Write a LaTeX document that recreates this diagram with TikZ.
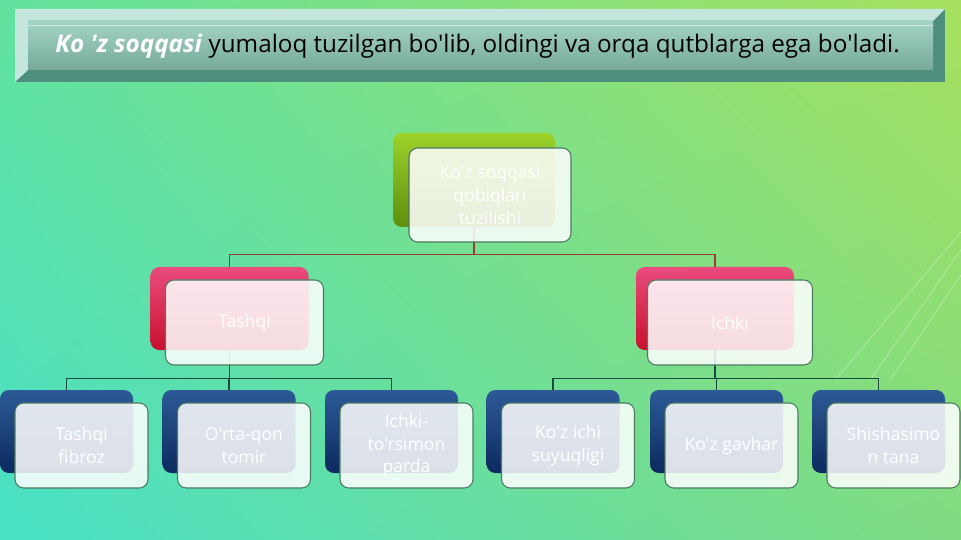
\documentclass[tikz,border=0pt]{standalone}
\usepackage{fontspec}
\setmainfont{Open Sans}[Ligatures=TeXOff]
\usepackage{tikz}
\usetikzlibrary{arrows}
\usetikzlibrary{shadings}
\definecolor{bgtl}{HTML}{62E29E}
\definecolor{bgtr}{HTML}{A6E05E}
\definecolor{bgbl}{HTML}{48E0C6}
\definecolor{bgbr}{HTML}{80DC82}
\definecolor{barface}{HTML}{8CC8B6}
\definecolor{barlight}{HTML}{C4E6DC}
\definecolor{bardark}{HTML}{4E8E7C}
\definecolor{linered}{HTML}{9C3A3A}
\definecolor{linegreen}{HTML}{1C4A40}
\definecolor{frameline}{HTML}{4A7A60}
\definecolor{greentop}{HTML}{9CD22A}
\definecolor{greenbot}{HTML}{5E8E0E}
\definecolor{redtop}{HTML}{EA4C7C}
\definecolor{redbot}{HTML}{C8102E}
\definecolor{bluetop}{HTML}{2C5A96}
\definecolor{bluebot}{HTML}{0C2A5E}
\tikzstyle{every node}+=[inner sep=0pt]
\tikzstyle{back} = [rectangle, rounded corners=5pt, minimum width=2.66cm, minimum height=1.66cm]
\tikzstyle{backgreen} = [back, top color=greentop, bottom color=greenbot, minimum width=3.24cm, minimum height=1.88cm]
\tikzstyle{backred} = [back, top color=redtop, bottom color=redbot, minimum width=3.16cm]
\tikzstyle{backblue} = [back, top color=bluetop, bottom color=bluebot]
\tikzstyle{front} = [rectangle, draw=frameline, line width=0.6pt, rounded corners=5pt, fill=white, fill opacity=0.86, text opacity=1, text=white, align=center, font=\fontsize{10}{13}\selectfont, minimum width=2.66cm, minimum height=1.70cm, xshift=0.3cm, yshift=-0.28cm]
\tikzstyle{line} = [draw, line width=0.7pt]

\begin{document}
\begin{tikzpicture}
  \useasboundingbox (0,0) rectangle (19.22,-10.8);
  % Background
  \shade[upper left=bgtl, upper right=bgtr, lower left=bgbl, lower right=bgbr] (0,0) rectangle (19.22,-10.8);
  \foreach \a/\b in {4.64/16.7, 5.0/17.4, 5.5/17.8}
    \draw[white, opacity=0.35, line width=0.4pt] (19.22,-\a) -- (\b,-7.6);
  % Title bar
  \fill[bardark] (0.30,-0.18) rectangle (18.90,-1.64);
  \fill[barlight] (0.30,-0.18) -- (18.90,-0.18) -- (18.66,-0.42) -- (0.56,-0.42) -- (0.56,-1.40) -- (0.30,-1.64) -- cycle;
  \shade[top color=barface!80!white, bottom color=barface!85!black] (0.56,-0.42) rectangle (18.66,-1.40);
  \draw[white, opacity=0.5, line width=0.5pt] (0.56,-0.50) -- (18.66,-0.50);
  \node (title) at (9.55,-0.92) {\fontsize{13.8}{16}\selectfont\textcolor{white}{\textbf{\textit{Ko 'z soqqasi}}} yumaloq tuzilgan bo'lib, oldingi va orqa qutblarga ega bo'ladi.};
  % Place nodes
  \node [backgreen] (b0) at (9.48,-3.60) {};
  \node [backred] (b1) at (4.59,-6.17) {};
  \node [backred] (b2) at (14.30,-6.17) {};
  \node [backblue] (b11) at (1.33,-8.63) {};
  \node [backblue] (b12) at (4.58,-8.63) {};
  \node [backblue] (b13) at (7.83,-8.63) {};
  \node [backblue] (b21) at (11.06,-8.63) {};
  \node [backblue] (b22) at (14.33,-8.63) {};
  \node [backblue] (b23) at (17.57,-8.63) {};
  % Draw edges
  \path [line, linered] (b0.south) -- ++(0,-0.54) -| (b1.north);
  \path [line, linered] (b0.south) -- ++(0,-0.54) -| (b2.north);
  \foreach \c in {b11,b12,b13}
    \path [line, linegreen] (b1.south) -- ++(0,-0.56) -| (\c.north);
  \foreach \c in {b21,b22,b23}
    \path [line, linegreen] (b2.south) -- ++(0,-0.56) -| (\c.north);
  % Front boxes
  \node [front, minimum width=3.24cm, minimum height=1.88cm, xshift=0.02cm, yshift=-0.02cm] (f0) at (b0) {Ko'z soqqasi\\qobiqlari\\tuzilishi};
  \node [front, minimum width=3.16cm] (f1) at (b1) {Tashqi};
  \node [front, minimum width=3.30cm] (f2) at (b2) {Ichki};
  \node [front] (f11) at (b11) {Tashqi\\fibroz};
  \node [front] (f12) at (b12) {O'rta-qon\\tomir};
  \node [front] (f13) at (b13) {Ichki-\\to'rsimon\\parda};
  \node [front] (f21) at (b21) {Ko'z ichi\\suyuqligi};
  \node [front] (f22) at (b22) {Ko'z gavhar};
  \node [front] (f23) at (b23) {Shishasimo\\n tana};
\end{tikzpicture}
\end{document}
